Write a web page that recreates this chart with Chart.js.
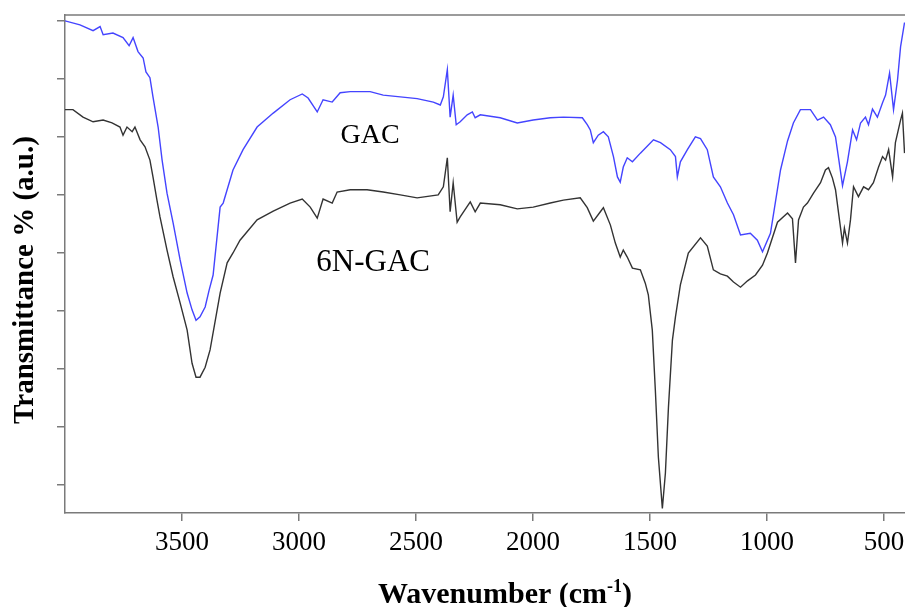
<!DOCTYPE html>
<html>
<head>
<meta charset="utf-8">
<script src="https://cdn.jsdelivr.net/npm/chart.js@4"></script>
<style>
  html, body { margin: 0; padding: 0; background: #fff; }
</style>
</head>
<body>
<canvas id="ftir" width="905" height="607"></canvas>
<script>
// wavenumber (cm-1) and transmittance (a.u.)
const gacWave = [4000, 3936, 3880, 3850, 3837, 3795, 3752, 3726, 3709, 3688, 3666, 3654, 3637, 3624, 3602, 3585, 3564, 3538, 3508, 3478, 3457, 3440, 3423, 3401, 3384, 3367, 3337, 3324, 3282, 3239, 3179, 3110, 3038, 2986, 2961, 2922, 2897, 2858, 2824, 2781, 2696, 2640, 2567, 2495, 2426, 2396, 2383, 2366, 2354, 2341, 2328, 2311, 2281, 2259, 2247, 2225, 2140, 2067, 1999, 1926, 1870, 1789, 1768, 1755, 1742, 1721, 1699, 1678, 1656, 1639, 1627, 1614, 1597, 1575, 1541, 1485, 1455, 1413, 1391, 1383, 1370, 1340, 1306, 1284, 1255, 1229, 1199, 1169, 1143, 1113, 1071, 1041, 1019, 985, 942, 912, 887, 857, 814, 784, 758, 729, 707, 694, 677, 656, 634, 617, 600, 579, 566, 549, 528, 506, 493, 476, 459, 442, 429, 412];
const gacT = [90.0, 89.3, 88.3, 89.0, 87.6, 87.9, 87.1, 85.7, 87.1, 84.7, 83.6, 81.2, 80.2, 76.9, 71.7, 66.0, 60.3, 55.2, 48.8, 43.1, 40.2, 38.4, 39.0, 40.7, 43.6, 46.2, 57.9, 58.6, 64.3, 67.8, 71.7, 74.1, 76.4, 77.4, 76.7, 74.3, 76.4, 76.0, 77.6, 77.8, 77.8, 77.2, 76.9, 76.6, 76.0, 75.5, 76.9, 81.6, 73.4, 77.2, 72.1, 72.6, 73.8, 74.3, 73.3, 73.8, 73.3, 72.4, 72.9, 73.3, 73.4, 73.3, 72.1, 71.2, 69.0, 70.3, 70.9, 70.0, 66.6, 63.1, 62.2, 64.8, 66.4, 65.7, 67.2, 69.5, 69.0, 67.8, 66.6, 63.1, 65.7, 67.8, 70.0, 69.7, 67.8, 63.1, 61.4, 58.6, 56.6, 53.1, 53.4, 52.2, 50.2, 53.4, 64.3, 69.3, 72.4, 74.7, 74.7, 72.9, 73.4, 72.1, 70.0, 66.4, 61.6, 65.7, 71.2, 69.5, 72.4, 73.4, 72.1, 74.8, 73.4, 75.9, 77.2, 81.0, 74.7, 79.8, 85.5, 89.7];

const n6Wave = [4000, 3966, 3923, 3880, 3837, 3799, 3765, 3752, 3735, 3713, 3701, 3679, 3658, 3637, 3624, 3607, 3594, 3564, 3538, 3508, 3478, 3457, 3440, 3423, 3401, 3380, 3337, 3307, 3282, 3252, 3179, 3110, 3038, 2986, 2952, 2922, 2897, 2858, 2837, 2781, 2709, 2640, 2567, 2495, 2405, 2383, 2366, 2354, 2341, 2324, 2311, 2268, 2247, 2225, 2140, 2067, 1999, 1926, 1870, 1798, 1768, 1742, 1712, 1699, 1669, 1648, 1627, 1614, 1597, 1575, 1541, 1520, 1507, 1490, 1477, 1464, 1447, 1434, 1421, 1404, 1391, 1370, 1336, 1284, 1255, 1229, 1199, 1169, 1143, 1113, 1083, 1049, 1019, 998, 955, 912, 891, 878, 865, 844, 827, 801, 771, 750, 737, 720, 707, 694, 677, 669, 656, 643, 630, 609, 587, 566, 545, 523, 506, 493, 480, 463, 451, 429, 421, 412];
const n6T = [74.7, 74.7, 73.4, 72.6, 72.9, 72.4, 71.7, 70.3, 71.7, 70.9, 71.7, 69.5, 68.3, 66.0, 63.1, 59.1, 56.2, 50.5, 45.9, 41.4, 36.7, 31.0, 28.6, 28.6, 30.3, 33.3, 43.1, 48.3, 50.0, 52.2, 55.7, 57.2, 58.6, 59.3, 57.9, 56.0, 59.3, 58.6, 60.5, 60.9, 60.9, 60.5, 60.0, 59.5, 60.0, 61.4, 66.4, 57.1, 62.1, 55.3, 56.2, 58.8, 57.1, 58.6, 58.3, 57.6, 57.9, 58.6, 59.1, 59.5, 57.8, 55.5, 57.1, 57.8, 54.8, 51.7, 49.3, 50.5, 49.3, 47.4, 47.1, 44.8, 42.8, 36.7, 26.4, 14.8, 6.0, 12.1, 23.4, 35.0, 39.0, 44.5, 50.0, 52.6, 51.2, 47.1, 46.4, 46.0, 45.0, 44.1, 45.2, 46.2, 47.9, 50.0, 55.3, 56.9, 55.9, 48.3, 55.7, 57.9, 58.6, 60.3, 62.1, 64.3, 64.7, 62.9, 60.9, 56.9, 51.7, 54.3, 51.7, 55.7, 61.4, 59.7, 61.4, 60.9, 62.1, 64.8, 66.6, 66.0, 67.8, 63.1, 69.0, 72.9, 74.1, 67.2];

const xTicks = [3500, 3000, 2500, 2000, 1500, 1000, 500];
const yTicks = [10, 20, 30, 40, 50, 60, 70, 80, 90];
const seriesNames = ["GAC", "6N-GAC"];
const nameX = [2696, 2683];
const nameY = [70.3, 48.3];

const axisGray = "#7a7a7a";
const serif = "'Liberation Serif', 'Times New Roman', serif";

function toPoints(xs, ys) {
  return xs.map((x, i) => ({ x: x, y: ys[i] }));
}

const extras = {
  id: "extras",
  afterDraw(chart) {
    const c = chart.ctx;
    const area = chart.chartArea;
    const xs = chart.scales.x;
    const ys = chart.scales.y;
    c.save();
    // top frame line
    c.strokeStyle = axisGray;
    c.lineWidth = 1.5;
    c.beginPath();
    c.moveTo(area.left, area.top);
    c.lineTo(905, area.top);
    c.stroke();

    // series names inside the plot
    c.fillStyle = "#000";
    c.textAlign = "center";
    c.textBaseline = "middle";
    const sizes = [28, 31];
    seriesNames.forEach((name, i) => {
      c.font = sizes[i] + "px " + serif;
      c.fillText(name, xs.getPixelForValue(nameX[i]), ys.getPixelForValue(nameY[i]));
    });

    // y title
    c.font = "bold 29px " + serif;
    c.textBaseline = "alphabetic";
    c.translate(33, (area.top + area.bottom) / 2 + 16);
    c.rotate(-Math.PI / 2);
    c.fillText("Transmittance % (a.u.)", 0, 0);
    c.restore();

    // x title with superscript
    c.save();
    c.fillStyle = "#000";
    c.textBaseline = "alphabetic";
    c.textAlign = "left";
    const main = "Wavenumber (cm";
    const sup = "-1";
    const close = ")";
    c.font = "bold 30px " + serif;
    const w1 = c.measureText(main).width;
    const w3 = c.measureText(close).width;
    c.font = "bold 18px " + serif;
    const w2 = c.measureText(sup).width;
    const total = w1 + w2 + w3;
    let x0 = 505 - total / 2;
    const base = 603;
    c.font = "bold 30px " + serif;
    c.fillText(main, x0, base);
    c.font = "bold 18px " + serif;
    c.fillText(sup, x0 + w1, base - 11);
    c.font = "bold 30px " + serif;
    c.fillText(close, x0 + w1 + w2, base);
    c.restore();
  }
};

const ctx = document.getElementById("ftir").getContext("2d");

const chart = new Chart(ctx, {
  type: "line",
  data: {
    datasets: [
      {
        label: seriesNames[0],
        data: toPoints(gacWave, gacT),
        borderColor: "#4444ff",
        borderWidth: 1.4,
        pointRadius: 0,
        tension: 0
      },
      {
        label: seriesNames[1],
        data: toPoints(n6Wave, n6T),
        borderColor: "#333333",
        borderWidth: 1.4,
        pointRadius: 0,
        tension: 0
      }
    ]
  },
  options: {
    responsive: false,
    animation: false,
    layout: { padding: { top: 15, right: 0, left: 0, bottom: 0 } },
    plugins: {
      legend: { display: false },
      tooltip: { enabled: false },
      title: { display: false }
    },
    scales: {
      x: {
        type: "linear",
        reverse: true,
        min: 410,
        max: 4000,
        afterBuildTicks: (scale) => {
          scale.ticks = xTicks.map((v) => ({ value: v }));
        },
        afterFit: (scale) => {
          scale.height = 94;
          scale.paddingLeft = 0;
          scale.paddingRight = 0;
        },
        border: { color: axisGray, width: 1.5 },
        grid: {
          drawOnChartArea: false,
          drawTicks: true,
          tickLength: 8,
          color: axisGray,
          lineWidth: 1.5
        },
        ticks: {
          color: "#000",
          font: { family: serif, size: 27 },
          padding: 6,
          maxRotation: 0,
          autoSkip: false,
          callback: (value) => String(value)
        }
      },
      y: {
        min: 5.2,
        max: 91.0,
        afterBuildTicks: (scale) => {
          scale.ticks = yTicks.map((v) => ({ value: v }));
        },
        afterFit: (scale) => {
          scale.width = 65;
          scale.paddingTop = 0;
          scale.paddingBottom = 0;
        },
        border: { color: axisGray, width: 1.5 },
        grid: {
          drawOnChartArea: false,
          drawTicks: true,
          tickLength: 8,
          color: axisGray,
          lineWidth: 1.5
        },
        ticks: { display: false }
      }
    }
  },
  plugins: [extras]
});
</script>
</body>
</html>
